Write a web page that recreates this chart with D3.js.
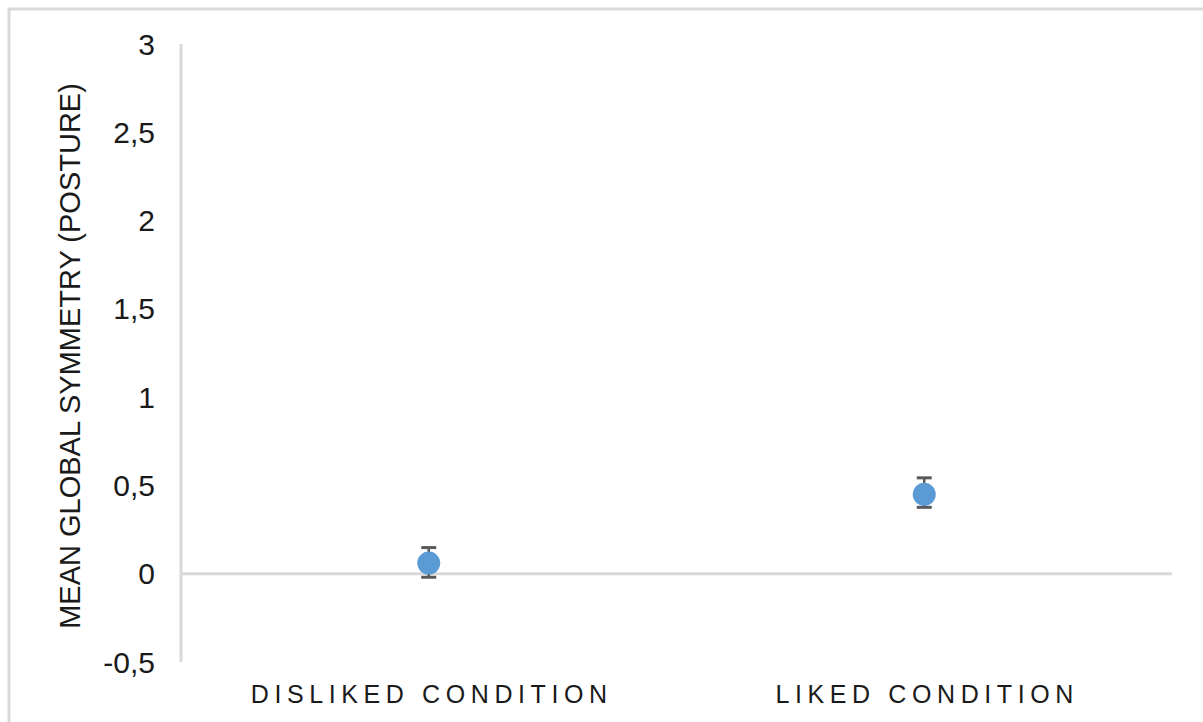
<!DOCTYPE html>
<html>
<head>
<meta charset="utf-8">
<script src="https://cdn.jsdelivr.net/npm/d3@7"></script>
<style>
  body { margin: 0; background: white; }
  svg { font-family: "Liberation Sans", Arial, sans-serif; }
</style>
</head>
<body>
<div id="container"></div>
<script>
/* DATA */
const categories = ["DISLIKED CONDITION", "LIKED CONDITION"]
const means = [0.06, 0.45]
const errLow = [-0.02, 0.376]
const errHigh = [0.148, 0.543]
const yTicks = [-0.5, 0, 0.5, 1, 1.5, 2, 2.5, 3]

const W = 1203, H = 722
const margin = {top: 44, right: 31, bottom: 60, left: 181}

const svg = d3.select("#container")
  .append("svg")
  .attr("width", W)
  .attr("height", H)

// outer frame (only top and left edges show)
svg.append("path")
  .attr("d", `M9,${H} V9 H${W}`)
  .attr("fill", "none")
  .attr("stroke", "#d9d9d9")
  .attr("stroke-width", 3)

/* SCALES */
const xScale = d3.scaleBand()
  .domain(categories)
  .range([margin.left, W - margin.right])

const yScale = d3.scaleLinear()
  .domain([-0.5, 3])
  .range([H - margin.bottom, margin.top])

const fmt = d => String(d).replace(".", ",")

// y axis line
svg.append("line")
  .attr("x1", margin.left).attr("x2", margin.left)
  .attr("y1", yScale(3)).attr("y2", yScale(-0.5))
  .attr("stroke", "#d9d9d9").attr("stroke-width", 3)

// zero line
svg.append("line")
  .attr("x1", margin.left).attr("x2", W - margin.right)
  .attr("y1", yScale(0)).attr("y2", yScale(0))
  .attr("stroke", "#d9d9d9").attr("stroke-width", 3)

// y tick labels
svg.selectAll(".ytick")
  .data(yTicks)
  .join("text")
  .attr("x", 155)
  .attr("y", d => yScale(d))
  .attr("dy", "0.35em")
  .attr("text-anchor", "end")
  .attr("font-size", 30)
  .attr("fill", "#1a1a1a")
  .text(fmt)

// category labels
svg.selectAll(".xlab")
  .data(categories)
  .join("text")
  .attr("x", d => xScale(d) + xScale.bandwidth() / 2 + 3)
  .attr("y", 703)
  .attr("text-anchor", "middle")
  .attr("font-size", 25)
  .attr("letter-spacing", "5.6px")
  .attr("fill", "#1a1a1a")
  .text(d => d)

// y axis title
svg.append("text")
  .attr("transform", `translate(80, 356) rotate(-90)`)
  .attr("text-anchor", "middle")
  .attr("font-size", 29)
  .attr("fill", "#1a1a1a")
  .text("MEAN GLOBAL SYMMETRY (POSTURE)")

const cx = i => xScale(categories[i]) + xScale.bandwidth() / 2

// error bars
const eb = svg.selectAll(".err")
  .data(means)
  .join("g")
eb.append("line")
  .attr("x1", (d, i) => cx(i)).attr("x2", (d, i) => cx(i))
  .attr("y1", (d, i) => yScale(errHigh[i])).attr("y2", (d, i) => yScale(errLow[i]))
  .attr("stroke", "#595959").attr("stroke-width", 2.5)
eb.append("line")
  .attr("x1", (d, i) => cx(i) - 7.5).attr("x2", (d, i) => cx(i) + 7.5)
  .attr("y1", (d, i) => yScale(errHigh[i])).attr("y2", (d, i) => yScale(errHigh[i]))
  .attr("stroke", "#595959").attr("stroke-width", 3)
eb.append("line")
  .attr("x1", (d, i) => cx(i) - 7.5).attr("x2", (d, i) => cx(i) + 7.5)
  .attr("y1", (d, i) => yScale(errLow[i])).attr("y2", (d, i) => yScale(errLow[i]))
  .attr("stroke", "#595959").attr("stroke-width", 3)

// points
svg.selectAll(".pt")
  .data(means)
  .join("circle")
  .attr("cx", (d, i) => cx(i))
  .attr("cy", d => yScale(d))
  .attr("r", 11.5)
  .attr("fill", "#5b9bd5")
</script>
</body>
</html>
